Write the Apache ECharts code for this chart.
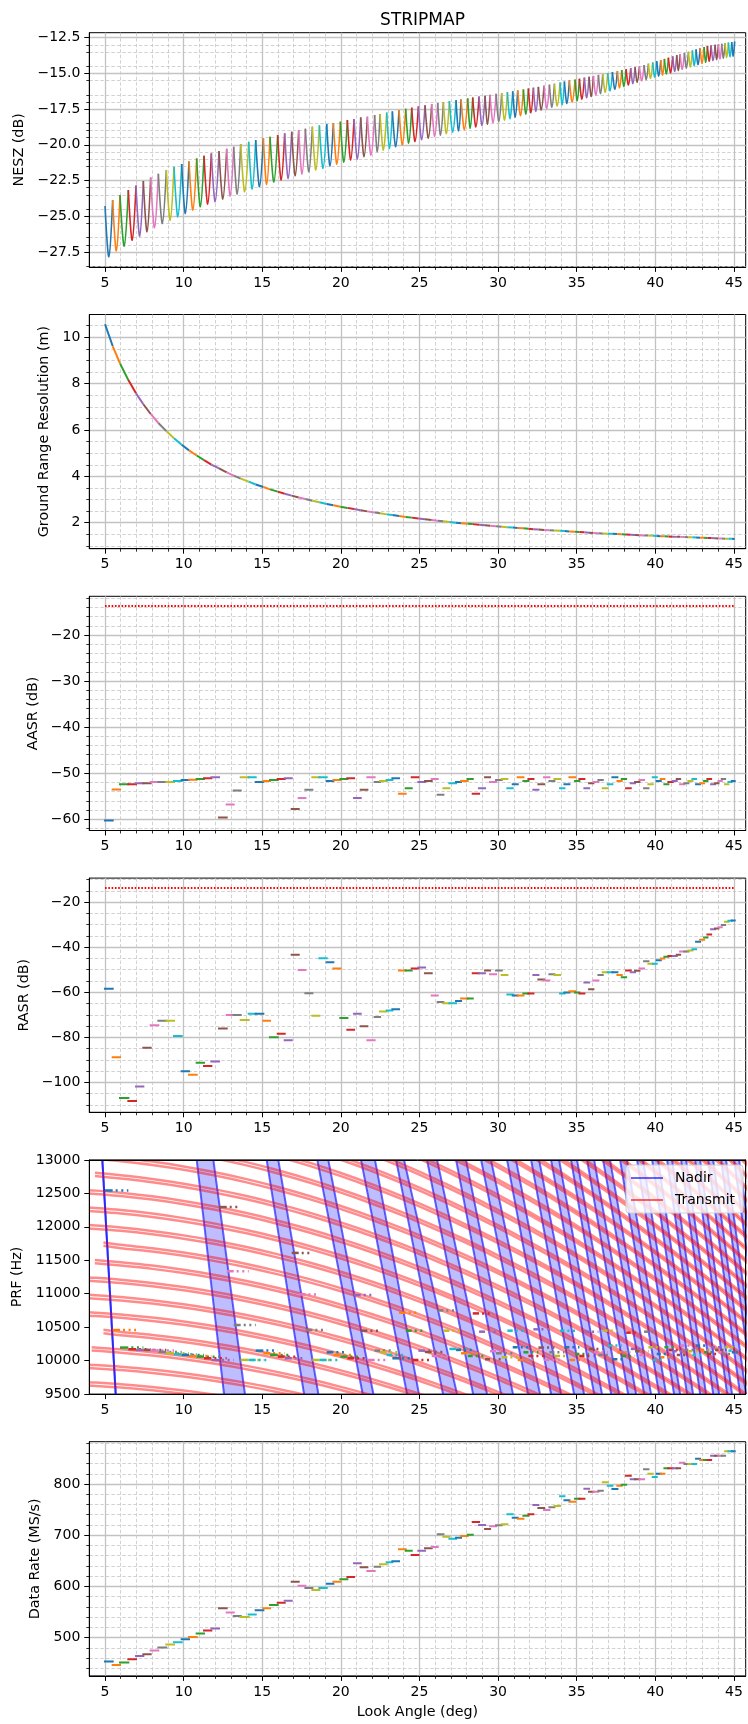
<!DOCTYPE html>
<html>
<head>
<meta charset="utf-8">
<script src="https://cdn.jsdelivr.net/npm/echarts@6/dist/echarts.min.js"></script>
<style>
  html, body { margin: 0; padding: 0; background: #fff; }
  #chart { width: 748px; height: 1724px; }
</style>
</head>
<body>
<div id="chart"></div>
<script>
// ---- Beam table: look-angle edges of the stripmap beams (deg) ----
const beamEdges = [
  5.000, 5.487, 5.953, 6.483, 6.971, 7.437, 7.904, 8.392, 8.900, 9.388,
  9.876, 10.342, 10.830, 11.297, 11.763, 12.251, 12.739, 13.184, 13.630, 14.139,
  14.584, 15.071, 15.495, 15.983, 16.428, 16.874, 17.319, 17.743, 18.188, 18.633,
  19.100, 19.524, 19.969, 20.414, 20.839, 21.263, 21.687, 22.150, 22.493, 22.917,
  23.277, 23.701, 24.125, 24.507, 24.931, 25.355, 25.779, 26.161, 26.522, 26.903,
  27.327, 27.645, 28.069, 28.388, 28.790, 29.172, 29.490, 29.872, 30.232, 30.593,
  30.932, 31.250, 31.611, 31.929, 32.247, 32.565, 32.925, 33.265, 33.583, 33.943,
  34.219, 34.537, 34.897, 35.173, 35.491, 35.788, 36.064, 36.382, 36.658, 36.976,
  37.272, 37.590, 37.866, 38.142, 38.438, 38.714, 38.990, 39.287, 39.562, 39.838,
  40.092, 40.347, 40.580, 40.834, 41.111, 41.365, 41.577, 41.852, 42.107, 42.361,
  42.594, 42.849, 43.103, 43.315, 43.549, 43.803, 44.015, 44.227, 44.439, 44.651,
  44.863, 45.050
];

// NESZ at the beam edges and at beam centres (dB)
const neszEdge = [
  -24.29, -23.87, -23.52, -23.17, -22.85, -22.54, -22.29, -22.03, -21.77, -21.54,
  -21.35, -21.16, -20.95, -20.77, -20.60, -20.44, -20.28, -20.14, -19.95, -19.79,
  -19.67, -19.55, -19.44, -19.32, -19.20, -19.08, -18.97, -18.87, -18.73, -18.64,
  -18.55, -18.50, -18.38, -18.27, -18.20, -18.08, -18.03, -17.91, -17.84, -17.74,
  -17.66, -17.57, -17.47, -17.40, -17.31, -17.23, -17.14, -17.07, -17.00, -16.94,
  -16.87, -16.82, -16.75, -16.69, -16.62, -16.56, -16.50, -16.43, -16.37, -16.31,
  -16.25, -16.19, -16.12, -16.06, -16.00, -15.94, -15.86, -15.79, -15.72, -15.64,
  -15.57, -15.50, -15.43, -15.37, -15.30, -15.23, -15.17, -15.10, -15.04, -14.97,
  -14.90, -14.83, -14.76, -14.70, -14.63, -14.56, -14.50, -14.41, -14.32, -14.23,
  -14.14, -14.06, -13.98, -13.90, -13.81, -13.72, -13.65, -13.56, -13.48, -13.39,
  -13.32, -13.23, -13.15, -13.08, -13.04, -12.99, -12.96, -12.92, -12.88, -12.84,
  -12.81, -12.77
];
const neszMin = [
  -27.84, -27.42, -27.10, -26.68, -26.40, -26.09, -25.81, -25.51, -25.28, -25.04,
  -24.81, -24.57, -24.34, -24.15, -23.99, -23.80, -23.59, -23.45, -23.29, -23.10,
  -22.94, -22.78, -22.61, -22.47, -22.36, -22.17, -22.05, -21.89, -21.77, -21.65,
  -21.49, -21.35, -21.21, -21.07, -21.00, -20.84, -20.72, -20.49, -20.37, -20.25,
  -20.13, -20.00, -19.88, -19.77, -19.65, -19.53, -19.42, -19.32, -19.23, -19.12,
  -19.03, -18.94, -18.84, -18.75, -18.65, -18.55, -18.46, -18.36, -18.27, -18.17,
  -18.07, -17.96, -17.86, -17.76, -17.66, -17.56, -17.46, -17.37, -17.28, -17.19,
  -17.11, -17.01, -16.91, -16.81, -16.71, -16.62, -16.52, -16.42, -16.32, -16.22,
  -16.11, -16.01, -15.91, -15.81, -15.71, -15.62, -15.52, -15.43, -15.34, -15.26,
  -15.18, -15.11, -15.03, -14.95, -14.86, -14.79, -14.71, -14.62, -14.54, -14.46,
  -14.38, -14.29, -14.22, -14.15, -14.10, -14.04, -13.99, -13.94, -13.89, -13.84,
  -13.79
];

// Ground range resolution at the beam edges (m)
const groundRes = [
  10.56, 9.62, 8.87, 8.15, 7.58, 7.11, 6.69, 6.30, 5.95, 5.64,
  5.36, 5.12, 4.90, 4.70, 4.51, 4.34, 4.17, 4.03, 3.90, 3.77,
  3.65, 3.54, 3.44, 3.34, 3.25, 3.17, 3.09, 3.02, 2.95, 2.88,
  2.81, 2.75, 2.69, 2.64, 2.59, 2.54, 2.49, 2.44, 2.41, 2.36,
  2.33, 2.29, 2.25, 2.22, 2.18, 2.15, 2.12, 2.09, 2.06, 2.03,
  2.00, 1.98, 1.96, 1.94, 1.91, 1.89, 1.87, 1.85, 1.83, 1.81,
  1.79, 1.77, 1.76, 1.74, 1.72, 1.71, 1.69, 1.68, 1.66, 1.65,
  1.64, 1.62, 1.61, 1.60, 1.59, 1.57, 1.56, 1.55, 1.54, 1.53,
  1.52, 1.51, 1.50, 1.49, 1.48, 1.47, 1.46, 1.45, 1.45, 1.44,
  1.43, 1.42, 1.42, 1.41, 1.40, 1.39, 1.39, 1.38, 1.37, 1.37,
  1.36, 1.35, 1.35, 1.34, 1.34, 1.33, 1.32, 1.32, 1.31, 1.31,
  1.31, 1.30
];

// Per-beam azimuth ambiguity ratio (dB)
const aasr = [
  -60.3, -53.55, -52.4, -52.4, -52.2, -52.2, -51.95, -51.95, -51.95, -51.7,
  -51.5, -51.45, -51.3, -51.1, -50.9, -59.65, -56.8, -53.8, -50.9, -50.9,
  -51.95, -51.7, -51.5, -51.3, -51.1, -57.8, -55.4, -53.6, -50.9, -50.9,
  -51.7, -51.5, -51.3, -51.1, -55.4, -53.6, -50.9, -51.95, -51.7, -51.5,
  -51.1, -54.5, -53.3, -50.9, -51.95, -51.7, -51.3, -54.7, -53.3, -52.2,
  -51.95, -51.7, -51.3, -54.5, -53.3, -50.9, -51.95, -51.5, -51.3, -53.3,
  -52.4, -50.9, -51.7, -51.3, -53.6, -52.4, -50.9, -51.7, -51.3, -53.3,
  -52.4, -50.9, -51.7, -51.3, -53.3, -52.2, -51.95, -51.5, -53.3, -52.4,
  -50.9, -51.7, -51.3, -53.3, -52.2, -51.95, -51.5, -53.3, -52.4, -50.9,
  -51.7, -51.3, -52.4, -51.95, -51.7, -51.3, -52.4, -52.2, -51.7, -51.3,
  -52.4, -52.2, -51.7, -51.3, -52.4, -52.2, -51.7, -51.3, -52.4, -51.95,
  -51.7
];

// Per-beam range ambiguity ratio (dB)
const rasr = [
  -58.5, -88.9, -107.0, -108.3, -101.8, -84.6, -74.7, -72.7, -72.7, -79.4,
  -95.1, -96.6, -91.3, -92.7, -90.8, -76.1, -70.1, -70.1, -72.3, -69.5,
  -69.5, -72.7, -80.0, -78.4, -81.3, -43.4, -50.1, -60.4, -70.4, -44.9,
  -46.7, -49.5, -71.4, -76.6, -69.5, -75.1, -81.3, -71.0, -68.6, -68.1,
  -67.6, -50.4, -50.4, -49.5, -49.0, -51.6, -61.5, -64.3, -64.9, -64.9,
  -63.9, -62.8, -62.8, -51.6, -51.6, -50.4, -52.0, -50.4, -52.4, -61.0,
  -61.5, -61.5, -60.6, -60.6, -52.4, -54.4, -54.8, -52.0, -52.4, -60.6,
  -60.1, -59.6, -60.1, -60.6, -55.7, -58.7, -54.8, -52.4, -51.1, -51.1,
  -51.1, -52.4, -53.3, -50.4, -51.1, -50.5, -49.5, -46.2, -47.3, -47.3,
  -45.8, -45.0, -44.3, -43.9, -43.9, -43.4, -41.9, -41.9, -41.5, -40.9,
  -37.6, -36.7, -35.7, -34.4, -32.0, -31.7, -31.1, -30.1, -28.7, -28.3,
  -28.1
];
const ambiguityLimitDb = -13.7;
const ambiguityLimitSpan = [5, 45];

// Per-beam pulse repetition frequency (Hz)
const prf = [
  12543, 10458, 10195, 10170, 10160, 10160, 10150, 10130, 10110, 10095,
  10085, 10070, 10060, 10035, 10010, 12295, 11337, 10532, 10011, 10010,
  10150, 10110, 10085, 10060, 10035, 11610, 10990, 10458, 10010, 10010,
  10125, 10085, 10060, 10035, 10980, 10448, 10010, 10150, 10125, 10085,
  10035, 10716, 10448, 10010, 10150, 10130, 10070, 10751, 10448, 10175,
  10160, 10110, 10070, 10706, 10433, 10021, 10140, 10110, 10050, 10448,
  10200, 10010, 10125, 10070, 10468, 10195, 10010, 10125, 10070, 10448,
  10200, 10010, 10100, 10070, 10433, 10175, 10125, 10085, 10448, 10225,
  10021, 10125, 10070, 10418, 10175, 10140, 10085, 10433, 10200, 10010,
  10100, 10050, 10200, 10160, 10140, 10085, 10225, 10160, 10140, 10085,
  10225, 10160, 10125, 10100, 10200, 10160, 10125, 10100, 10200, 10150,
  10125
];

// Per-beam data rate (MS/s)
const dataRate = [
  453.1, 446.6, 451.2, 457.7, 464.2, 467.4, 474.6, 480.5, 486.3, 490.9,
  496.7, 501.3, 507.8, 513.7, 517.6, 557.3, 548.8, 542.3, 540.3, 544.9,
  553.3, 557.3, 563.8, 568.3, 572.2, 609.3, 601.5, 597.0, 593.0, 597.0,
  605.4, 609.3, 613.9, 618.4, 645.1, 637.3, 630.1, 638.6, 643.2, 647.1,
  649.0, 672.4, 669.8, 661.4, 669.8, 674.4, 677.0, 701.7, 697.2, 693.3,
  695.2, 698.5, 701.1, 725.8, 720.0, 712.1, 717.3, 719.3, 721.3, 740.8,
  734.3, 732.3, 738.2, 740.8, 759.0, 753.1, 749.2, 754.4, 757.0, 775.9,
  768.1, 765.5, 771.4, 771.4, 790.9, 785.0, 785.0, 787.0, 803.3, 796.7,
  790.2, 796.7, 798.7, 816.3, 809.1, 809.1, 809.1, 828.6, 820.2, 813.7,
  820.2, 820.2, 830.6, 830.6, 830.6, 830.6, 841.6, 839.0, 839.0, 839.0,
  849.5, 846.9, 846.9, 846.9, 855.3, 855.3, 855.3, 855.3, 863.8, 863.8,
  863.8
];

// Nadir-echo exclusion bands: look angle of each edge at the top and bottom PRF
const nadirTopPrf = 13000;
const nadirBottomPrf = 9500;
const nadirLeftTop = [4.83, 10.83, 15.28, 18.50, 21.28, 23.51, 25.48, 27.33, 28.92, 30.57, 32.10, 33.37, 34.64, 35.66, 36.68, 37.76, 38.84, 39.80, 40.75, 41.64, 42.53, 43.36, 44.18, 45.01];
const nadirLeftBottom = [5.68, 12.57, 17.66, 21.39, 24.21, 26.50, 28.41, 30.19, 31.91, 33.37, 34.83, 36.11, 37.19, 38.27, 39.29, 40.24, 41.19, 42.02, 42.85, 43.68, 44.57, 45.39, 46.22, 47.05];
const nadirRightTop = [4.83, 11.89, 16.02, 19.20, 22.17, 24.02, 26.12, 27.96, 29.55, 31.14, 32.61, 33.88, 35.02, 36.11, 37.12, 38.20, 39.22, 40.18, 41.07, 41.96, 42.85, 43.68, 44.50, 45.33];
const nadirRightBottom = [5.68, 13.90, 18.57, 22.07, 24.97, 27.39, 29.30, 30.95, 32.67, 34.01, 35.47, 36.61, 37.70, 38.78, 39.73, 40.69, 41.58, 42.40, 43.23, 44.06, 44.88, 45.77, 46.54, 47.37];

// Transmit-blocking bands: centre PRF at 4 deg, first angle, and the relative fall-off with look angle
const transmitCenterAt4 = [
  9653, 9914, 10175, 10436, 10697, 10958, 11219, 11480, 11741, 12001,
  12262, 12523, 12784, 13045, 13306, 13567, 13828, 14089, 14350, 14610,
  14871, 15132, 15393, 15654, 15915, 16176, 16437, 16698, 16959, 17219,
  17480, 17741, 18002, 18263, 18524
];
const transmitStart = [
  3.9, 3.9, 4.15, 4.9, 3.9, 3.9, 3.9, 4.35, 4.9, 3.9,
  3.9, 3.9, 4.36, 4.3, 3.9, 3.9, 3.9, 3.9, 3.9, 3.9,
  3.9, 3.9, 3.9, 3.9, 3.9, 3.9, 3.9, 3.9, 3.9, 3.9,
  3.9, 3.9, 3.9, 3.9, 3.9
];
const transmitHalfGapHz = 25;
const transmitShapeAngle = [4, 6, 8, 10, 12, 14, 16, 18, 20, 22, 24, 26, 28, 30, 32, 34, 36, 38, 40, 42, 44, 46];
const transmitShapeFactor = [1.0000, 0.9970, 0.9927, 0.9872, 0.9805, 0.9727, 0.9636, 0.9534, 0.9420, 0.9295, 0.9158, 0.9010, 0.8851, 0.8681, 0.8501, 0.8311, 0.8110, 0.7899, 0.7679, 0.7450, 0.7211, 0.6964];

// Tick labels
const angleTicks = [5, 10, 15, 20, 25, 30, 35, 40, 45];
const neszTicks = [-27.5, -25, -22.5, -20, -17.5, -15, -12.5];
const resTicks = [2, 4, 6, 8, 10];
const aasrTicks = [-60, -50, -40, -30, -20];
const rasrTicks = [-100, -80, -60, -40, -20];
const prfTicks = [9500, 10000, 10500, 11000, 11500, 12000, 12500, 13000];
const rateTicks = [500, 600, 700, 800];

// ---- Styling ----
const FONT = 'DejaVu Sans';
const TAB10 = ['#1f77b4', '#ff7f0e', '#2ca02c', '#d62728', '#9467bd', '#8c564b', '#e377c2', '#7f7f7f', '#bcbd22', '#17becf'];
const GRID_LEFT = 89.3, GRID_WIDTH = 656.4, GRID_HEIGHT = 234.2;
const GRID_TOPS = [32.7, 314.5, 596.3, 878.1, 1159.9, 1441.7];
const PRF_PANEL = 4;
const NADIR_LINE = 'rgba(0,0,255,0.6)';
const NADIR_FILL = 'rgba(0,0,255,0.26)';
const TRANSMIT_LINE = 'rgba(255,0,0,0.45)';
const MAJOR_GRID = { color: '#c2c2c2', width: 1.3 };
const MINOR_GRID = { color: '#c6c6c6', width: 0.8, type: [3.5, 2] };

const minusSign = s => String(s).replace('-', '\u2212');

const grids = GRID_TOPS.map(t => ({
  left: GRID_LEFT, top: t, width: GRID_WIDTH, height: GRID_HEIGHT,
  show: true, borderColor: '#000', borderWidth: 1, backgroundColor: 'transparent'
}));

const X_MIN = 4, X_MAX = 45.75;

const xAxes = GRID_TOPS.map((t, i) => {
  const withGrid = i !== PRF_PANEL;
  return {
    type: 'value', gridIndex: i, min: X_MIN, max: X_MAX, splitNumber: 8,
    z: withGrid ? 0 : 10,
    axisLine: { show: true, onZero: false, lineStyle: { color: '#000', width: 1 } },
    axisTick: { show: true, length: 5, customValues: angleTicks, lineStyle: { color: '#000', width: 1 } },
    minorTick: { show: withGrid, splitNumber: 5, length: 3, lineStyle: { color: '#000', width: 0.8 } },
    axisLabel: { customValues: angleTicks, margin: 9, fontFamily: FONT, fontSize: 14, color: '#000' },
    splitLine: { show: withGrid, lineStyle: MAJOR_GRID },
    minorSplitLine: { show: withGrid, lineStyle: MINOR_GRID },
    name: i === 5 ? 'Look Angle (deg)' : '',
    nameLocation: 'middle', nameGap: 29,
    nameTextStyle: { fontFamily: FONT, fontSize: 14.3, color: '#000' }
  };
});

const ySpecs = [
  { name: 'NESZ (dB)', min: -28.55, max: -12.15, ticks: neszTicks, split: 8, minor: 4, digits: 1, gap: 63 },
  { name: 'Ground Range Resolution (m)', min: 0.88, max: 10.98, ticks: resTicks, split: 5, minor: 4, digits: 0, gap: 37 },
  { name: 'AASR (dB)', min: -62.46, max: -11.6, ticks: aasrTicks, split: 5, minor: 5, digits: 0, gap: 49 },
  { name: 'RASR (dB)', min: -113.3, max: -9.33, ticks: rasrTicks, split: 5, minor: 4, digits: 0, gap: 57 },
  { name: 'PRF (Hz)', min: 9500, max: 13000, ticks: prfTicks, split: 7, minor: 5, digits: 0, gap: 65, bare: true },
  { name: 'Data Rate (MS/s)', min: 425.2, max: 882.6, ticks: rateTicks, split: 5, minor: 5, digits: 0, gap: 45 }
];

const yAxes = ySpecs.map((s, i) => ({
  type: 'value', gridIndex: i, min: s.min, max: s.max, splitNumber: s.split,
  z: s.bare ? 10 : 0,
  axisLine: { show: true, onZero: false, lineStyle: { color: '#000', width: 1 } },
  axisTick: { show: true, length: 5, customValues: s.ticks, lineStyle: { color: '#000', width: 1 } },
  minorTick: { show: !s.bare, splitNumber: s.minor, length: 3, lineStyle: { color: '#000', width: 0.8 } },
  axisLabel: {
    customValues: s.ticks, margin: 9, fontFamily: FONT, fontSize: 14, color: '#000',
    formatter: v => minusSign(Number(v).toFixed(s.digits))
  },
  splitLine: { show: !s.bare, lineStyle: MAJOR_GRID },
  minorSplitLine: { show: !s.bare, lineStyle: MINOR_GRID },
  name: s.name, nameLocation: 'middle', nameGap: s.gap,
  nameTextStyle: { fontFamily: FONT, fontSize: 14.3, color: '#000' }
}));

// Top and right frame of the PRF panel, drawn above the bands
xAxes.push({
  type: 'value', gridIndex: PRF_PANEL, position: 'top', min: X_MIN, max: X_MAX, z: 10,
  axisLine: { show: true, onZero: false, lineStyle: { color: '#000', width: 1 } },
  axisTick: { show: false }, axisLabel: { show: false }, splitLine: { show: false }
});
yAxes.push({
  type: 'value', gridIndex: PRF_PANEL, position: 'right', min: ySpecs[PRF_PANEL].min, max: ySpecs[PRF_PANEL].max, z: 10,
  axisLine: { show: true, onZero: false, lineStyle: { color: '#000', width: 1 } },
  axisTick: { show: false }, axisLabel: { show: false }, splitLine: { show: false }
});

const series = [];

// NESZ: one rounded trough per beam
series.push({
  type: 'custom', xAxisIndex: 0, yAxisIndex: 0, clip: true, silent: true,
  encode: { x: [0, 1], y: [2, 3, 4] },
  data: neszMin.map((m, i) => [beamEdges[i], beamEdges[i + 1], neszEdge[i], m, neszEdge[i + 1], i]),
  renderItem: (params, api) => {
    const a = api.value(0), b = api.value(1);
    const p0 = api.coord([a, api.value(2)]);
    const pm = api.coord([(a + b) / 2, api.value(3)]);
    const p1 = api.coord([b, api.value(4)]);
    return {
      type: 'polyline', shape: { points: [p0, pm, p1], smooth: 0.35 },
      style: { stroke: TAB10[api.value(5) % 10], lineWidth: 1.6, fill: null }
    };
  }
});

// Ground range resolution: continuous curve coloured by beam
series.push({
  type: 'custom', xAxisIndex: 1, yAxisIndex: 1, clip: true, silent: true,
  encode: { x: [0, 1], y: [2, 3] },
  data: beamEdges.slice(0, -1).map((e, i) => [e, beamEdges[i + 1], groundRes[i], groundRes[i + 1], i]),
  renderItem: (params, api) => {
    const p0 = api.coord([api.value(0), api.value(2)]);
    const p1 = api.coord([api.value(1), api.value(3)]);
    return {
      type: 'line', shape: { x1: p0[0], y1: p0[1], x2: p1[0], y2: p1[1] },
      style: { stroke: TAB10[api.value(4) % 10], lineWidth: 2 }
    };
  }
});

// Flat per-beam dash (one value across the beam)
function beamDashSeries(idx, values) {
  return {
    type: 'custom', xAxisIndex: idx, yAxisIndex: idx, clip: true, silent: true,
    encode: { x: [0, 1], y: 2 },
    data: values.map((v, i) => [beamEdges[i], beamEdges[i + 1], v, i]),
    renderItem: (params, api) => {
      const p0 = api.coord([api.value(0), api.value(2)]);
      const p1 = api.coord([api.value(1), api.value(2)]);
      return {
        type: 'line', shape: { x1: p0[0], y1: p0[1], x2: p1[0], y2: p1[1] },
        style: { stroke: TAB10[api.value(3) % 10], lineWidth: 2, lineCap: 'square' }
      };
    }
  };
}

function limitSeries(idx) {
  return {
    type: 'line', xAxisIndex: idx, yAxisIndex: idx, silent: true, symbol: 'none',
    data: ambiguityLimitSpan.map(a => [a, ambiguityLimitDb]),
    lineStyle: { color: '#ff0000', width: 2, type: [1.6, 1.7] }, z: 3
  };
}

series.push(beamDashSeries(2, aasr));
series.push(limitSeries(2));
series.push(beamDashSeries(3, rasr));
series.push(limitSeries(3));

// PRF panel: nadir bands
series.push({
  type: 'custom', name: 'Nadir', xAxisIndex: PRF_PANEL, yAxisIndex: PRF_PANEL, clip: true, silent: true,
  itemStyle: { color: NADIR_LINE },
  encode: { x: [0, 1, 2, 3] },
  data: nadirLeftTop.map((lt, i) => [lt, nadirLeftBottom[i], nadirRightTop[i], nadirRightBottom[i]]),
  renderItem: (params, api) => {
    const tl = api.coord([api.value(0), nadirTopPrf]);
    const bl = api.coord([api.value(1), nadirBottomPrf]);
    const tr = api.coord([api.value(2), nadirTopPrf]);
    const br = api.coord([api.value(3), nadirBottomPrf]);
    return {
      type: 'group',
      children: [
        { type: 'polygon', shape: { points: [tl, tr, br, bl] }, style: { fill: NADIR_FILL } },
        { type: 'line', shape: { x1: tl[0], y1: tl[1], x2: bl[0], y2: bl[1] }, style: { stroke: NADIR_LINE, lineWidth: 2 } },
        { type: 'line', shape: { x1: tr[0], y1: tr[1], x2: br[0], y2: br[1] }, style: { stroke: NADIR_LINE, lineWidth: 2 } }
      ]
    };
  }
});

// PRF panel: transmit bands, each a pair of curves (one data item per curve)
const transmitCurves = [];
transmitCenterAt4.forEach((centre, k) => {
  [-transmitHalfGapHz, transmitHalfGapHz].forEach(off => {
    const base = centre + off;
    const pts = [[transmitStart[k], base]];
    transmitShapeAngle.forEach((a, j) => {
      if (a > transmitStart[k]) pts.push([a, base * transmitShapeFactor[j]]);
    });
    transmitCurves.push(pts);
  });
});
series.push({
  type: 'custom', name: 'Transmit', xAxisIndex: PRF_PANEL, yAxisIndex: PRF_PANEL, clip: true, silent: true,
  itemStyle: { color: TRANSMIT_LINE },
  encode: { x: 1, y: 2 },
  data: transmitCurves.map((pts, i) => [i, pts[0][0], pts[0][1]]),
  renderItem: (params, api) => {
    const pts = transmitCurves[api.value(0)].map(p => api.coord(p));
    return {
      type: 'polyline', shape: { points: pts, smooth: 0.3 },
      style: { stroke: TRANSMIT_LINE, lineWidth: 2.5, fill: null }
    };
  }
});

// PRF panel: per-beam PRF, solid over the beam then dotted
series.push({
  type: 'custom', xAxisIndex: PRF_PANEL, yAxisIndex: PRF_PANEL, clip: true, silent: true,
  encode: { x: [0, 1, 3], y: 2 },
  data: prf.map((v, i) => [beamEdges[i], beamEdges[i + 1], v, beamEdges[Math.min(i + 3, beamEdges.length - 1)], i]),
  renderItem: (params, api) => {
    const p0 = api.coord([api.value(0), api.value(2)]);
    const p1 = api.coord([api.value(1), api.value(2)]);
    const p2 = api.coord([api.value(3), api.value(2)]);
    const c = TAB10[api.value(4) % 10];
    return {
      type: 'group',
      children: [
        { type: 'line', shape: { x1: p0[0], y1: p0[1], x2: p1[0], y2: p1[1] }, style: { stroke: c, lineWidth: 2.5 } },
        { type: 'line', shape: { x1: p1[0] + 3, y1: p1[1], x2: p2[0], y2: p2[1] }, style: { stroke: c, lineWidth: 2.5, lineDash: [2, 3.6] } }
      ]
    };
  }
});

series.push(beamDashSeries(5, dataRate));

const option = {
  animation: false,
  backgroundColor: '#ffffff',
  title: {
    text: 'STRIPMAP', left: 417.5, top: 7, textAlign: 'center',
    textStyle: { fontFamily: FONT, fontSize: 17, fontWeight: 'normal', color: '#000' }
  },
  legend: {
    show: true, orient: 'vertical', left: 626, top: 1165, z: 20,
    data: [
      { name: 'Nadir', icon: 'rect', itemStyle: { color: NADIR_LINE } },
      { name: 'Transmit', icon: 'rect', itemStyle: { color: 'rgba(255,0,0,0.6)' } }
    ],
    itemWidth: 32, itemHeight: 2, itemGap: 6,
    backgroundColor: 'rgba(255,255,255,0.8)', borderColor: '#cccccc', borderWidth: 1, borderRadius: 3,
    padding: [5, 8, 5, 5], selectedMode: false,
    textStyle: { fontFamily: FONT, fontSize: 14, color: '#000', padding: [0, 0, 0, 7], lineHeight: 16 }
  },
  grid: grids,
  xAxis: xAxes,
  yAxis: yAxes,
  series: series
};

const chart = echarts.init(document.getElementById('chart'), null, { renderer: 'canvas', width: 748, height: 1724 });
chart.setOption(option);
</script>
</body>
</html>
